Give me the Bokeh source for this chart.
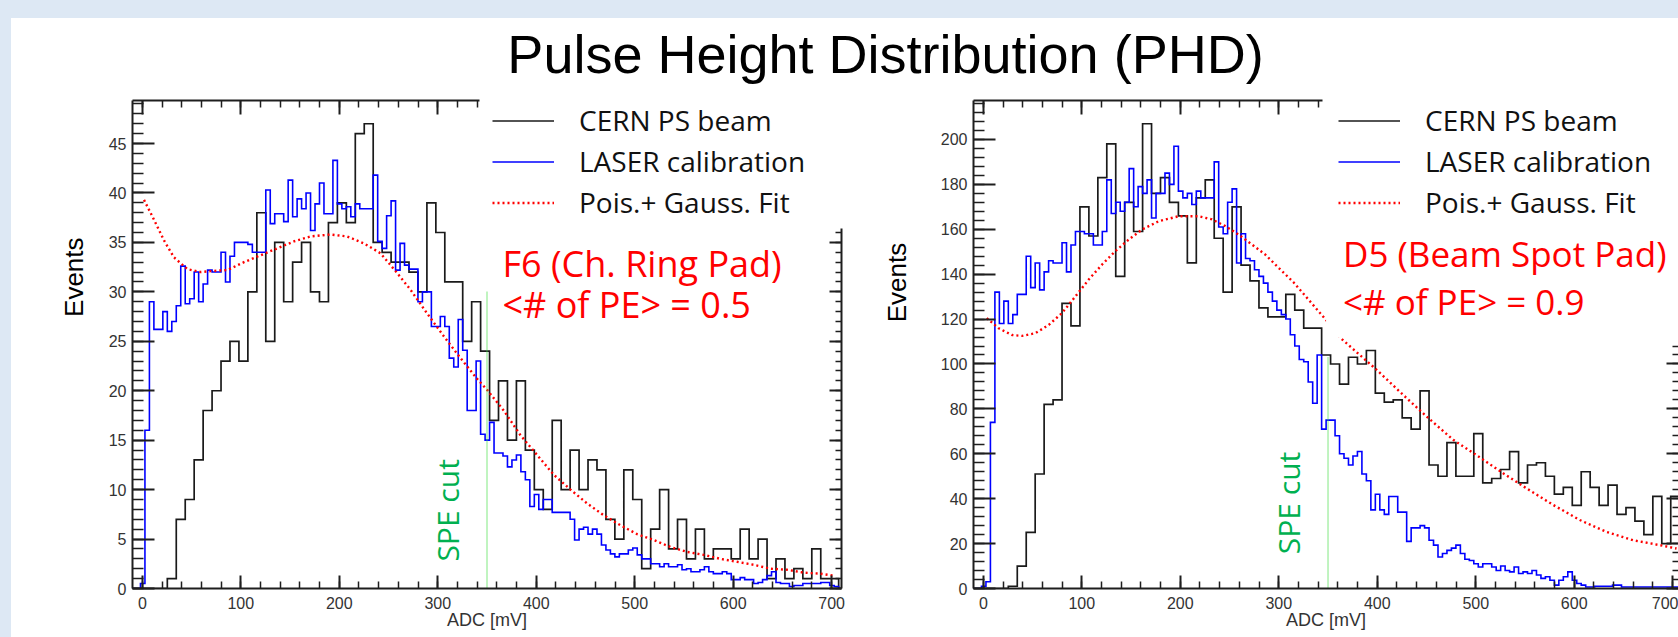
import numpy as np
from bokeh.plotting import figure
from bokeh.layouts import column, row
from bokeh.models import (Label, Legend, LegendItem, LinearAxis, SingleIntervalTicker,
                          Range1d, BoxAnnotation, Spacer)
from bokeh.embed import file_html
from bokeh.resources import INLINE

# ---------------- texts ----------------
TITLE = "Pulse Height Distribution (PHD)"
X_LABEL = "ADC [mV]"
Y_LABEL = "Events"
SERIES_NAMES = ["CERN PS beam", "LASER calibration", "Pois.+ Gauss. Fit"]
SPE_TEXT = "SPE cut"
F6_NAME = "F6 (Ch. Ring Pad)"
F6_PE = "<# of PE> = 0.5"
D5_NAME = "D5 (Beam Spot Pad)"
D5_PE = "<# of PE> = 0.9"

# ---------------- binning ----------------
BIN_START = -11.0
BEAM_BIN_WIDTH = 9.09
LASER_BIN_WIDTH = 4.545

# ---------------- F6 (Ch. Ring Pad) ----------------
f6_beam = [0, 0, 0, 0, 1, 7, 9, 13, 18, 20,
           23, 25, 23, 30, 38, 25, 35, 29, 33, 35,
           30, 29, 37, 39, 37, 46, 47, 35, 34, 33,
           33, 32, 30, 39, 36, 31, 31, 25, 29, 24,
           17, 21, 15, 21, 14, 10, 8, 17, 10, 14,
           10, 13, 12, 7, 5, 12, 9, 2, 6, 10,
           4, 7, 3, 6, 3, 4, 4, 3, 6, 3,
           5, 1, 3, 1, 2, 1, 4, 1, 1]
f6_laser = [0, 0, 0.5, 16, 29, 26.2, 26.2, 28, 26, 27,
            28.6, 32.6, 28.8, 29.3, 32, 29, 30.8, 32.2, 32, 32,
            34, 31, 33.6, 35, 35, 35, 34.8, 34, 34, 34,
            40.3, 36.9, 37.9, 37.9, 37.1, 41.3, 37.6, 39.4, 38.4, 40,
            36.2, 38.9, 41, 37.9, 37.9, 43.3, 38.9, 38.4, 38.6, 37.6,
            38.9, 38.4, 38.4, 38.4, 41.8, 35.1, 34.4, 37.7, 39.2, 32.2,
            34.9, 32.7, 32.3, 32.3, 29, 30, 30, 26.5, 26.5, 27.5,
            26.5, 23.3, 22.4, 27.2, 24.1, 18, 18, 23, 15.6, 15,
            16.8, 13.7, 13.7, 13.4, 12.3, 13, 13.5, 11.8, 11, 8.3,
            9.5, 8, 9, 9, 7.7, 7.7, 7.7, 7.7, 7, 4.9,
            6, 6.2, 5.5, 6, 5.5, 4.4, 3.9, 3.5, 3.2, 3.5,
            3.5, 3.9, 4.1, 3.4, 3, 3, 2.5, 2.5, 2.2, 2.5,
            2.2, 2.2, 2.4, 1.9, 2, 1.7, 1.7, 1.9, 2.2, 1.7,
            1.5, 1.5, 1.7, 1.5, 0.9, 0.9, 1.1, 0.9, 0.9, 0.5,
            0.6, 0.9, 1.3, 1.7, 0.6, 0.5, 0.5, 0.2, 0.3, 0.3,
            0.5, 0.5, 0.5, 0.5, 0.6, 0.6, 0.3, 0.2]
f6_fit_adc = [1.7, 11.8, 22, 32, 45.7, 59.2, 69.3, 86.3, 103.2, 120.1,
              137, 153.9, 170.8, 191, 208, 225, 241.9, 258.8, 272.4, 289.3,
              306.2, 323.1, 340, 350, 367, 384, 400.9, 417.8, 434.8, 451.7,
              468.6, 485.5, 502.4, 519.3, 536.3, 553.2, 570.1, 587, 603.9, 620.8,
              637.8, 654.7, 671.6, 688.5, 702]
f6_fit_events = [39.3, 37.3, 35.2, 33.5, 32.3, 32.0, 32.1, 32.2, 33.0, 33.7,
                 34.4, 35.1, 35.6, 35.8, 35.6, 34.9, 33.9, 31.9, 30.2, 27.8,
                 25.5, 23.3, 21.2, 20.1, 18.0, 15.5, 13.5, 11.5, 10.0, 8.6,
                 7.4, 6.4, 5.5, 4.9, 4.2, 3.7, 3.4, 3.0, 2.7, 2.4,
                 2.0, 1.9, 1.6, 1.5, 1.3]
f6_spe = [350, 30]          # cut position [mV], drawn height

# ---------------- D5 (Beam Spot Pad) ----------------
d5_beam = [0, 0, 0, 0, 1, 10, 25, 51, 82, 84,
           127, 117, 170, 157, 183, 198, 139, 172, 159, 207,
           176, 183, 172, 166, 145, 174, 182, 156, 132, 170,
           144, 137, 125, 121, 121, 131, 124, 116, 116, 104,
           100, 91, 103, 100, 106, 87, 83, 84, 76, 71,
           88, 55, 50, 65, 50, 50, 69, 47, 49, 53,
           61, 47, 55, 56, 50, 42, 45, 37, 52, 45,
           37, 46, 33, 36, 30, 24, 41, 20, 41]
d5_laser = [0, 0, 1, 3, 74, 132, 118, 128, 118, 122,
            131, 131, 148, 134, 145, 133, 141, 146, 145, 145,
            154, 141, 153, 159, 159, 158, 158, 153, 153, 159,
            182, 167, 172, 168, 172, 187, 170, 179, 176, 182,
            165, 176, 176, 185, 180, 197, 177, 174, 176, 171,
            177, 174, 174, 174, 190, 161, 158, 172, 178, 145,
            158, 147, 146, 142, 139, 136, 132, 128, 124, 122,
            120, 113, 108, 102, 101, 92, 82.5, 104, 71, 75,
            75, 68, 60, 58, 55, 59, 61, 51, 48, 35,
            42, 35, 33, 41, 41, 34, 34, 21, 27, 27,
            28, 27, 21.5, 19.3, 14, 15.6, 17, 18, 19.3, 15.6,
            13, 12.5, 11, 9.6, 11, 11, 9.6, 8, 10, 8,
            7.4, 9.6, 6.7, 7.4, 6.7, 8, 6, 4.5, 5.2, 3.7,
            1.5, 3.7, 5.2, 7.4, 3.7, 2.2, 1.5, 0.7, 0.7, 1,
            1, 1, 1, 1.5, 1.5, 0.7, 0.7, 0.7, 0.7, 0.7,
            0.7, 0.7, 0.7, 0.7, 0.7, 0.7, 0.7, 0.7]
d5_fit_adc = [3.4, 15.6, 29.1, 39.3, 52.8, 66.4, 79.9, 93.5, 107, 120.6,
              134.1, 147.6, 161.2, 178.1, 198.4, 218.7, 232.2, 245.7, 259.3, 272.8,
              286.3, 299.9, 314.7, 331.7, 348.6, 362.1, 399.4, 426.4, 450.1, 477.2,
              500.8, 527.9, 551.6, 578.7, 605.7, 632.8, 659.9, 687, 703.9]
d5_fit_events = [120.4, 115.9, 112.9, 112.5, 113.7, 117.4, 122.7, 130.1, 137.6, 144.3,
                 150.3, 155.4, 159.9, 163.6, 165.8, 165.8, 164.4, 161.4, 157.6, 153.2,
                 148.7, 142.8, 136.5, 127.9, 119.3, 111.8, 97.4, 86.2, 76.6, 66.2,
                 59.4, 51.3, 44.6, 37.2, 30.5, 25.2, 21.5, 19.3, 17.8]
d5_spe = [350, 103]

# ---------------- styling ----------------
AX_FONT = "Liberation Sans"
TXT_FONT = "Open Sans"
AX_COLOR = "#1e1e1e"
BLACK = "#1a1a1a"
BLUE = "#0000ff"
RED = "#ff0000"
GREEN_LINE = "#3fdc3f"
GREEN_TXT = "#00b050"
ROW_H = 544


def step_xy(start, width, counts):
    counts = np.asarray(counts, dtype=float)
    edges = start + width * np.arange(len(counts) + 1)
    xs = np.concatenate([[edges[0]], np.repeat(edges, 2)[1:-1], [edges[-1]]])
    ys = np.concatenate([[0.0], np.repeat(counts, 2), [0.0]])
    return xs, ys


def style_axis(ax, tick_in, minor_in, labels, line=True):
    ax.axis_line_color = AX_COLOR if line else None
    ax.axis_line_width = 2
    ax.major_tick_line_color = AX_COLOR
    ax.major_tick_line_width = 2
    ax.minor_tick_line_color = AX_COLOR
    ax.minor_tick_line_width = 1.5
    ax.major_tick_in = tick_in
    ax.major_tick_out = 0
    ax.minor_tick_in = minor_in
    ax.minor_tick_out = 0
    if labels:
        ax.major_label_text_font = AX_FONT
        ax.major_label_text_font_size = "16px"
        ax.major_label_text_color = "#333333"
        ax.major_label_standoff = 6
    else:
        ax.major_label_text_font_size = "0px"
        ax.major_label_text_color = None
        ax.major_label_standoff = 0


def blank_fig(w, h):
    f = figure(width=w, height=h, x_range=Range1d(0, w), y_range=Range1d(0, h),
               x_axis_type=None, y_axis_type=None, output_backend="svg",
               toolbar_location=None, title=None, min_border=0, min_border_left=0,
               min_border_right=0, min_border_top=0, min_border_bottom=0)
    f.outline_line_color = None
    f.background_fill_color = "white"
    f.border_fill_color = "white"
    return f


def make_pad(width, border_left, border_right, x_end, beam, laser, fit_x, fit_y, spe,
             y_major, top_bound, right_bound, right_line, legend_x,
             name, pe, name_pos, pe_pos, name_size, spe_pos, cover=None):
    y_end = 1.05 * max(beam)
    p = figure(width=width, height=ROW_H, x_range=Range1d(-10, x_end),
               y_range=Range1d(0, y_end), title=None,
               x_axis_type=None, y_axis_type=None, output_backend="svg",
               toolbar_location=None, min_border_left=border_left,
               min_border_right=border_right, min_border_top=8, min_border_bottom=48)
    p.outline_line_color = None
    p.background_fill_color = "white"
    p.border_fill_color = "white"

    xb = LinearAxis(ticker=SingleIntervalTicker(interval=100, num_minor_ticks=5))
    style_axis(xb, 13, 7, True)
    xb.major_label_standoff = 8
    xb.axis_label = X_LABEL
    xb.axis_label_text_font = AX_FONT
    xb.axis_label_text_font_size = "18px"
    xb.axis_label_text_font_style = "normal"
    xb.axis_label_text_color = "#333333"
    xb.axis_label_standoff = -2
    p.add_layout(xb, "below")
    xt = LinearAxis(ticker=SingleIntervalTicker(interval=100, num_minor_ticks=5),
                    bounds=(-10, top_bound))
    style_axis(xt, 14, 7, False)
    p.add_layout(xt, "above")
    yl = LinearAxis(ticker=SingleIntervalTicker(interval=y_major, num_minor_ticks=5))
    style_axis(yl, 22, 11, True)
    p.add_layout(yl, "left")
    yr = LinearAxis(ticker=SingleIntervalTicker(interval=y_major, num_minor_ticks=5),
                    bounds=(0, right_bound))
    style_axis(yr, 12, 6, False, line=right_line)
    p.add_layout(yr, "right")

    bx, by = step_xy(BIN_START, BEAM_BIN_WIDTH, beam)
    r_beam = p.line(bx, by, line_color=BLACK, line_width=1.7, line_join="miter")
    lx, ly = step_xy(BIN_START, LASER_BIN_WIDTH, laser)
    r_laser = p.line(lx, ly, line_color=BLUE, line_width=1.6, line_join="miter")
    r_fit = p.line(fit_x, fit_y, line_color=RED, line_width=2.4, line_dash="2 3")
    p.line([spe[0], spe[0]], [0, spe[1]], line_color=GREEN_LINE, line_width=1.3,
           line_dash="1 1")

    if cover is not None:
        p.add_layout(BoxAnnotation(left=cover[0], bottom=cover[1], fill_color="white",
                                   fill_alpha=1.0, line_alpha=0))

    legend = Legend(items=[LegendItem(label=SERIES_NAMES[0], renderers=[r_beam]),
                           LegendItem(label=SERIES_NAMES[1], renderers=[r_laser]),
                           LegendItem(label=SERIES_NAMES[2], renderers=[r_fit])],
                    location=(legend_x, 355), orientation="vertical",
                    background_fill_alpha=0, border_line_alpha=0,
                    label_text_font=TXT_FONT, label_text_font_size="28px",
                    label_text_color="#111111",
                    glyph_width=62, glyph_height=37, label_height=37, spacing=3,
                    padding=12, margin=0, label_standoff=25)
    p.add_layout(legend)

    for pos, txt in ((name_pos, name), (pe_pos, pe)):
        p.add_layout(Label(x=pos[0], y=pos[1], text=txt, text_font=TXT_FONT,
                           text_font_size=name_size, text_color=RED, text_align="left",
                           text_baseline="middle"))
    p.add_layout(Label(x=spe_pos[0], y=spe_pos[1], text=SPE_TEXT, angle=np.pi / 2,
                       text_font=TXT_FONT, text_font_size="30px", text_color=GREEN_TXT,
                       text_align="center", text_baseline="middle"))
    return p


def events_fig(w, x, y):
    f = blank_fig(w, ROW_H)
    f.add_layout(Label(x=x, y=y, text=Y_LABEL, angle=np.pi / 2, text_font=AX_FONT,
                       text_font_size="26px", text_color="black", text_align="center",
                       text_baseline="middle"))
    return f


p1 = make_pad(762, 32, 21, 710, f6_beam, f6_laser, f6_fit_adc, f6_fit_events, f6_spe,
              5, 342, 36.4, True, 348,
              F6_NAME, F6_PE, (365.7, 32.87), (365.7, 28.72), "36px",
              (309.9, 7.9))

p2 = make_pad(753, 48, 0, 705.9, d5_beam, d5_laser, d5_fit_adc, d5_fit_events, d5_spe,
              20, 344, 110.8, False, 353,
              D5_NAME, D5_PE, (365.2, 149.2), (365.2, 127.7), "35px",
              (309.9, 38.1), cover=(348, 111.7))

ev1 = events_fig(89, 62, 347)
ev2 = events_fig(63, 34, 341)

title_fig = blank_fig(1667, 74)
title_fig.add_layout(Label(x=874, y=38.7, text=TITLE, text_font=AX_FONT,
                           text_font_size="54px", text_color="black", text_align="center",
                           text_baseline="middle"))

layout = column(
    Spacer(width=1678, height=18),
    row(Spacer(width=11, height=74), title_fig, spacing=0),
    row(Spacer(width=11, height=ROW_H), ev1, p1, ev2, p2, spacing=0),
    spacing=0,
)

html = file_html(layout, INLINE, "Pulse Height Distribution (PHD)")
STYLE = ("<style>body{background-color:#ffffff;"
         "background-image:linear-gradient(#dde8f4,#dde8f4),linear-gradient(#dde8f4,#dde8f4);"
         "background-size:100% 18px,11px 100vh;background-position:0 0,0 0;"
         "background-repeat:no-repeat;}</style>")
html = html.replace("</head>", STYLE + "</head>", 1)
open("out.html", "w").write(html)
